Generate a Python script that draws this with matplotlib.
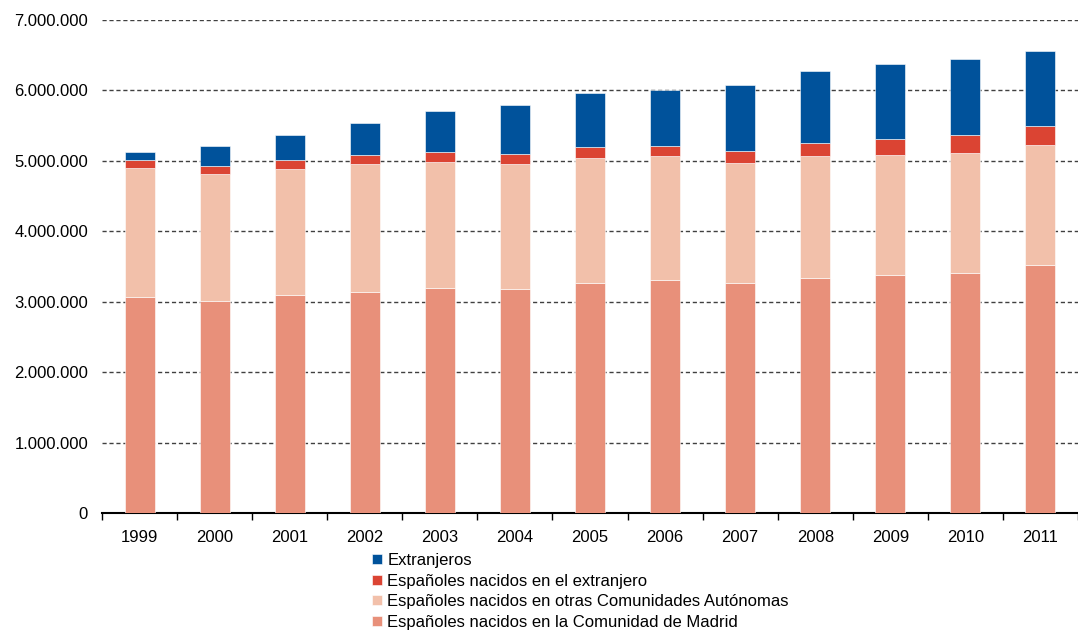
import matplotlib.pyplot as plt
import matplotlib.ticker as mticker
import numpy as np

plt.rcParams['font.family'] = ['Liberation Sans', 'DejaVu Sans']

years = ['1999', '2000', '2001', '2002', '2003', '2004', '2005',
         '2006', '2007', '2008', '2009', '2010', '2011']
# stacked values (millions)
madrid = [3.07, 3.01, 3.09, 3.14, 3.20, 3.18, 3.27, 3.31, 3.27, 3.34, 3.38, 3.41, 3.525]
otras = [1.83, 1.80, 1.79, 1.815, 1.79, 1.775, 1.775, 1.755, 1.70, 1.725, 1.70, 1.705, 1.70]
esp_extranjero = [0.108, 0.11, 0.13, 0.125, 0.13, 0.145, 0.145, 0.145, 0.17, 0.195, 0.23, 0.255, 0.27]
extranjeros = [0.122, 0.29, 0.36, 0.46, 0.59, 0.70, 0.78, 0.80, 0.93, 1.01, 1.07, 1.08, 1.065]

labels = ['Españoles nacidos en la Comunidad de Madrid',
          'Españoles nacidos en otras Comunidades Autónomas',
          'Españoles nacidos en el extranjero',
          'Extranjeros']
colors = ['#E8907A', '#F2C0AA', '#DB4433', '#00529B']

fig = plt.figure(figsize=(10.78, 6.33), dpi=100)
ax = fig.add_axes([102/1078, 1 - 513/633, 1 - 102/1078, (513 - 20)/633])

x = np.arange(len(years))
series = [madrid, otras, esp_extranjero, extranjeros]
bottom = np.zeros(len(years))
handles = []
for vals, col, lab in zip(series, colors, labels):
    v = np.array(vals) * 1e6
    b = ax.bar(x, v, 0.40, bottom=bottom, color=col, label=lab,
               edgecolor='#FFFFFF', linewidth=0.4, zorder=3)
    handles.append(b)
    bottom += v

ax.set_ylim(0, 7e6)
ax.set_xlim(-0.5, 12.43)
ax.set_yticks(np.arange(0, 7.01e6, 1e6))
ax.yaxis.set_major_formatter(mticker.FuncFormatter(
    lambda v, p: '0' if v == 0 else f'{int(v):,}'.replace(',', '.')))
ax.yaxis.grid(True, color='#404040', linestyle=(0, (3, 2)), linewidth=1.0, zorder=0)
ax.set_xticks(x)
ax.set_xticklabels(years)
ax.set_xticks(np.arange(-0.5, 12.6, 1), minor=True)
ax.tick_params(axis='x', which='major', length=0, pad=12, labelsize=12)
ax.tick_params(axis='x', which='minor', length=5, width=1, color='black')
ax.tick_params(axis='y', length=0, pad=10, labelsize=12)
for s in ['left', 'right', 'top']:
    ax.spines[s].set_visible(False)
ax.spines['bottom'].set_linewidth(1.5)

fig.legend(handles[::-1], labels[::-1], loc='upper left',
           bbox_to_anchor=(364/1078, 1 - 545/633), frameon=False,
           fontsize=12, handlelength=0.55, handleheight=0.55,
           handletextpad=0.35, labelspacing=0.33, borderpad=0)

fig.savefig('out.png', dpi=100)
